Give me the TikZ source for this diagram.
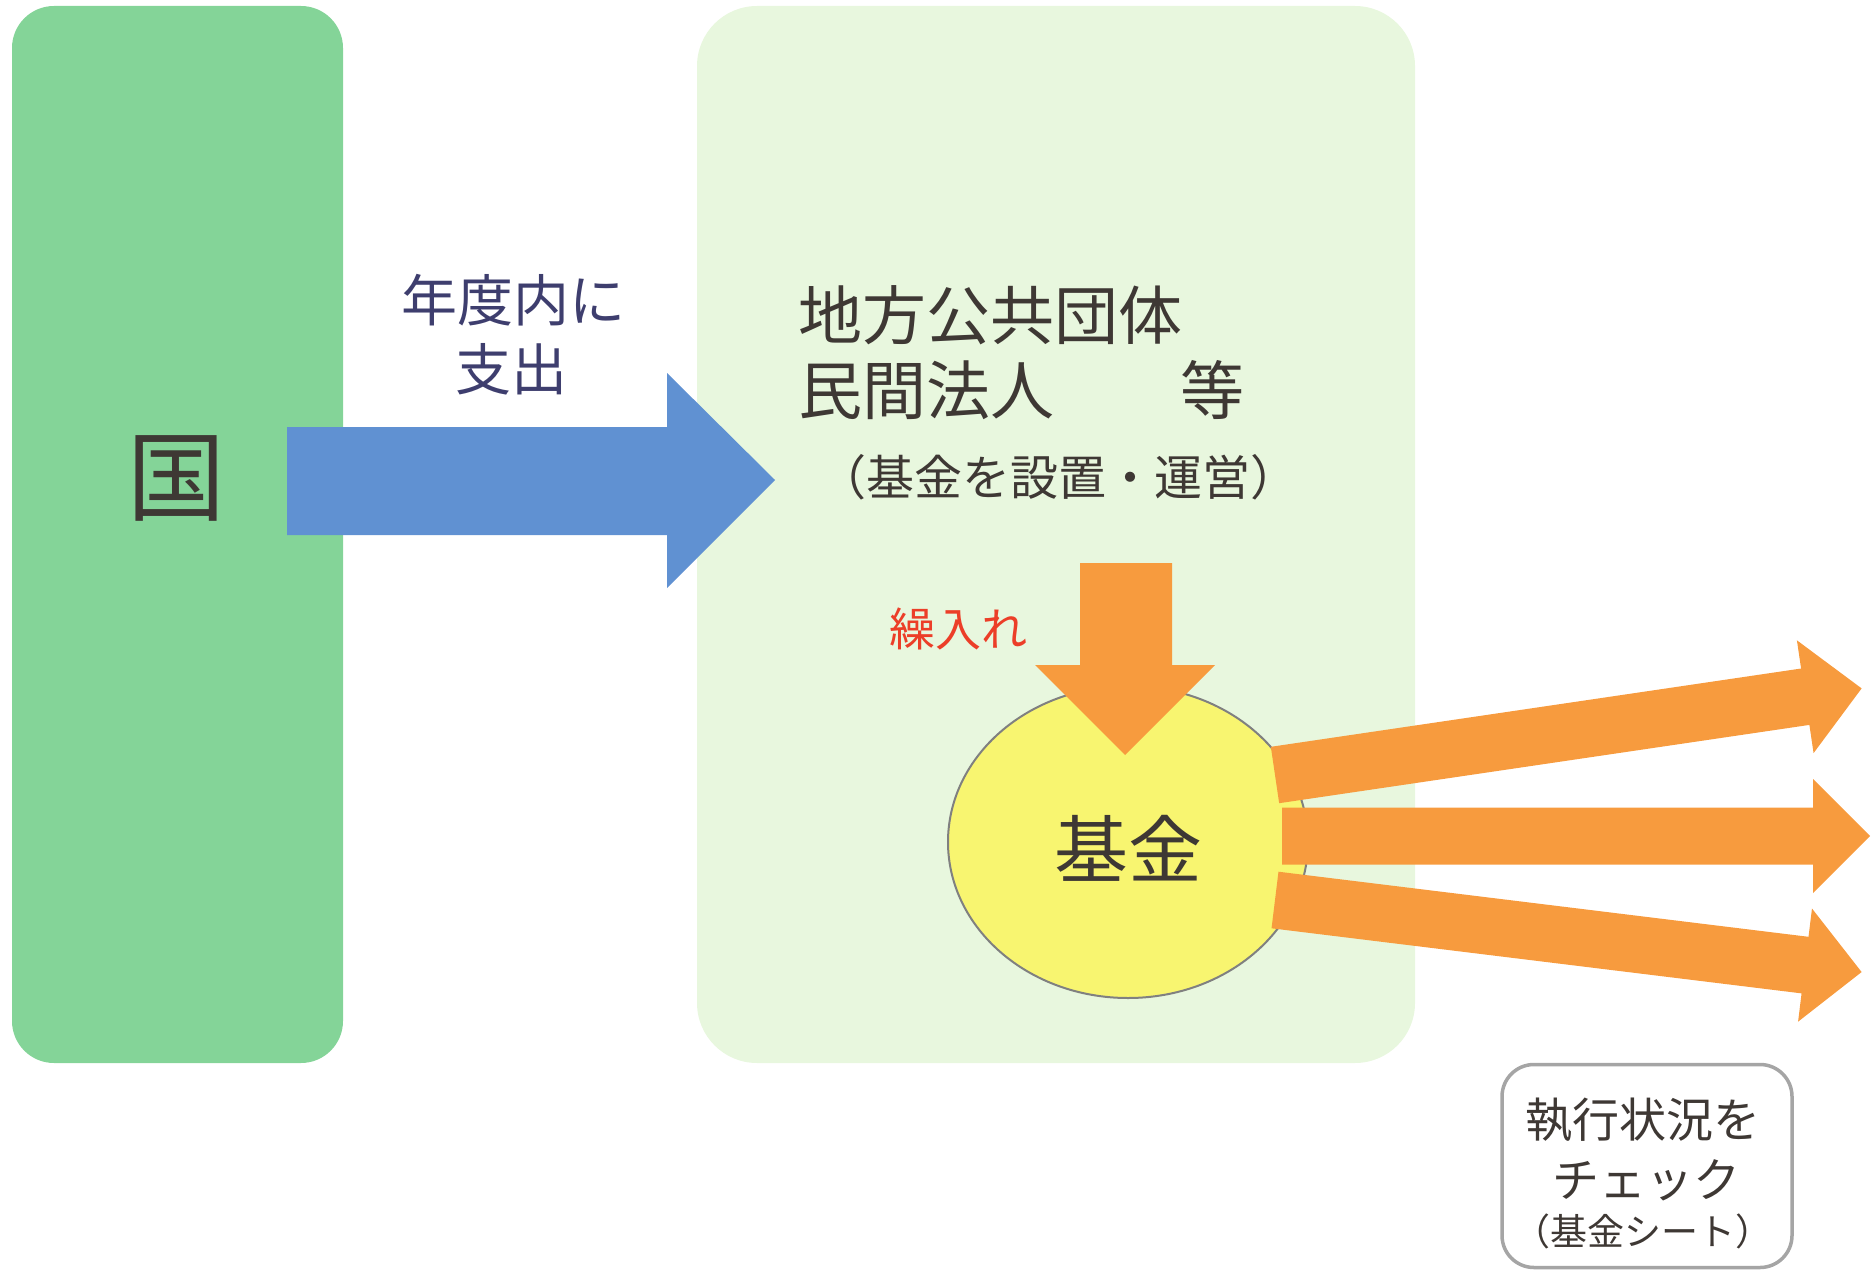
\documentclass[tikz,border=0pt]{standalone}
\usepackage{fontspec}
\newfontfamily\jp{Noto Sans CJK JP}
\usetikzlibrary{shapes.geometric}
\definecolor{kunigreen}{RGB}{132,212,152}
\definecolor{orggreen}{RGB}{232,247,222}
\definecolor{bluearrow}{RGB}{96,145,210}
\definecolor{orangearrow}{RGB}{247,155,62}
\definecolor{fundyellow}{RGB}{248,245,112}
\definecolor{txtdark}{RGB}{62,56,52}
\definecolor{txtnavy}{RGB}{62,62,110}
\definecolor{txtred}{RGB}{236,62,40}
\definecolor{boxgray}{RGB}{165,165,165}
\newcommand{\fsz}[1]{\fontsize{#1}{#1}\selectfont}
\newcommand{\orarrow}[4]{% name, start, angle, length
  \fill[orangearrow, shift={#2}, rotate=#3] (0,-28.5) -- ({#4-57},-28.5) -- ({#4-57},-57) -- (#4,0) coordinate (#1) -- ({#4-57},57) -- ({#4-57},28.5) -- (0,28.5) -- cycle;}
\tikzset{
  jtext/.style={font=\jp, inner sep=0pt, text=txtdark},
  panel/.style={rounded corners=#1, draw=none},
}
\begin{document}
\begin{tikzpicture}[x=1pt,y=-1pt]
\useasboundingbox (0,0) rectangle (1871,1271);
% panels
\fill[kunigreen, panel=42] (12,6) rectangle (343,1063);
\fill[orggreen, panel=60] (697,6) rectangle (1415,1063);
% blue arrow
\fill[bluearrow] (287,427) -- (667,427) -- (667,373) -- (775,480) -- (667,588) -- (667,535) -- (287,535) -- cycle;
% fund ellipse
\node[ellipse, draw=black!50, line width=2pt, fill=fundyellow, minimum width=360pt, minimum height=312pt, inner sep=0pt] (fund) at (1128,842) {};
% down arrow
\fill[orangearrow] (1080,563) -- (1172,563) -- (1172,665) -- (1215,665) -- (1125,755) -- (1035,665) -- (1080,665) -- cycle;
% right arrows
\orarrow{a1}{(1275,775)}{8.4}{593}
\orarrow{a2}{(1282,836)}{0}{588}
\orarrow{a3}{(1275,900)}{-7}{591}
% texts
\node[jtext, font=\jp\fsz{98}] (kuni) at (176,478) {国};
\node[jtext, text=txtnavy, font=\jp\fsz{56}] (l1) at (513,300) {年度内に};
\node[jtext, text=txtnavy, font=\jp\fsz{56}] (l2) at (511,369) {支出};
\node[jtext, font=\jp\fsz{64}, anchor=west] (o1) at (798,315) {地方公共団体};
\node[jtext, font=\jp\fsz{64}, anchor=west] (o2) at (798,390) {民間法人};
\node[jtext, font=\jp\fsz{64}] (o3) at (1212,390) {等};
\node[jtext, font=\jp\fsz{48}] (o4) at (1058,477) {（基金を設置・運営）};
\node[jtext, text=txtred, font=\jp\fsz{46}] (kuri) at (958,629) {繰入れ};
\node[jtext, font=\jp\fsz{74}] (kikin) at (1128,848) {基金};
% check box
\node[draw=boxgray, line width=3.5pt, fill=white, rounded corners=32pt, minimum width=290pt, minimum height=203pt, inner sep=0pt] (check) at (1647,1166) {};
\node[jtext, font=\jp\fsz{47}] (c1) at (1643,1120) {執行状況を};
\node[jtext, font=\jp\fsz{47}] (c2) at (1646,1180) {チェック};
\node[jtext, font=\jp\fsz{37}] (c3) at (1643,1231) {（基金シート）};
\end{tikzpicture}
\end{document}
